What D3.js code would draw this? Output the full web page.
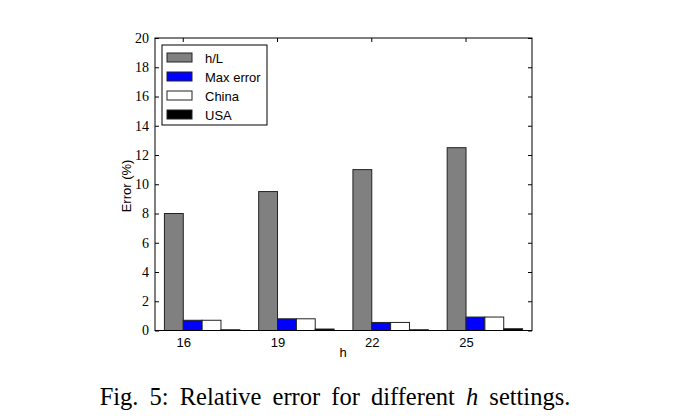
<!DOCTYPE html>
<html>
<head>
<meta charset="utf-8">
<script src="https://cdn.jsdelivr.net/npm/d3@7"></script>
<style>
  html, body { margin: 0; padding: 0; background: #fff; }
  svg { display: block; }
</style>
</head>
<body>
<svg id="chart" width="683" height="420"></svg>
<script>
const categories = ["16", "19", "22", "25"];
const seriesNames = ["h/L", "Max error", "China", "USA"];
const hL = [8, 9.5, 11, 12.5];
const maxError = [0.7, 0.8, 0.55, 0.92];
const china = [0.7, 0.8, 0.55, 0.92];
const usa = [0.05, 0.1, 0.05, 0.12];
const yTicks = [0, 2, 4, 6, 8, 10, 12, 14, 16, 18, 20];
const colors = ["#808080", "#0000ff", "#ffffff", "#000000"];

(function () {
const series = [hL, maxError, china, usa];
const svg = d3.select("#chart");
const pLeft = 155, pRight = 532, pTop = 38, pBottom = 330.5;
const sans = "Liberation Sans, Arial, sans-serif";
const serif = "Liberation Serif, Times New Roman, serif";

const x = d3.scaleBand().domain(categories).range([pLeft, pRight]).paddingInner(0.2).paddingOuter(0.1);
const xs = d3.scaleBand().domain(seriesNames).range([0, x.bandwidth()]);
const y = d3.scaleLinear().domain([0, 20]).range([pBottom, pTop]);

// bars
const g = svg.append("g");
categories.forEach((c, i) => {
  seriesNames.forEach((s, j) => {
    g.append("rect")
      .attr("x", x(c) + xs(s))
      .attr("y", y(series[j][i]))
      .attr("width", xs.bandwidth())
      .attr("height", y(0) - y(series[j][i]))
      .attr("fill", colors[j])
      .attr("stroke", "#222")
      .attr("stroke-width", 1);
  });
});

// frame
svg.append("rect").attr("x", pLeft).attr("y", pTop).attr("width", pRight - pLeft).attr("height", pBottom - pTop)
  .attr("fill", "none").attr("stroke", "#000").attr("stroke-width", 1);

// y axis left (inward ticks)
const yAxisL = d3.axisLeft(y).tickValues(yTicks).tickSize(-4).tickPadding(6).tickFormat(d3.format("d"));
const gyl = svg.append("g").attr("transform", `translate(${pLeft},0)`).call(yAxisL);
gyl.select(".domain").remove();
gyl.selectAll("text").attr("font-family", serif).attr("font-size", 14).attr("fill", "#000");
gyl.selectAll("line").attr("stroke", "#000");

const yAxisR = d3.axisRight(y).tickValues(yTicks).tickSize(-4).tickFormat("");
const gyr = svg.append("g").attr("transform", `translate(${pRight},0)`).call(yAxisR);
gyr.select(".domain").remove();
gyr.selectAll("line").attr("stroke", "#000");

// x ticks position (at first quarter of each group)
const tickPos = c => x(c) + xs.bandwidth();
const xTop = svg.append("g");
categories.forEach(c => {
  xTop.append("line").attr("x1", tickPos(c)).attr("x2", tickPos(c)).attr("y1", pTop).attr("y2", pTop + 4).attr("stroke", "#000");
});
const xAxisB = d3.axisBottom(d3.scalePoint().domain(categories).range([tickPos(categories[0]), tickPos(categories[categories.length - 1])]))
  .tickSize(0).tickPadding(7);
const gxb = svg.append("g").attr("transform", `translate(0,${pBottom})`).call(xAxisB);
gxb.select(".domain").remove();
gxb.selectAll("text").attr("font-family", sans).attr("font-size", 13).attr("fill", "#000");

// axis labels
svg.append("text").attr("x", 343).attr("y", 357).attr("text-anchor", "middle")
  .attr("font-family", sans).attr("font-size", 13).text("h");
svg.append("text").attr("transform", "translate(131,186) rotate(-90)").attr("text-anchor", "middle")
  .attr("font-family", sans).attr("font-size", 13).text("Error (%)");

// legend
const lg = svg.append("g");
lg.append("rect").attr("x", 162).attr("y", 45).attr("width", 105).attr("height", 80)
  .attr("fill", "#fff").attr("stroke", "#000").attr("stroke-width", 1);
seriesNames.forEach((s, j) => {
  const cy = 57.5 + j * 19;
  lg.append("rect").attr("x", 167).attr("y", cy - 4.5).attr("width", 25).attr("height", 9)
    .attr("fill", colors[j]).attr("stroke", "#222").attr("stroke-width", 1);
  lg.append("text").attr("x", 205).attr("y", cy + 5)
    .attr("font-family", sans).attr("font-size", 13).text(s);
});

// caption
const cap = svg.append("text").attr("x", 335).attr("y", 405).attr("text-anchor", "middle")
  .attr("font-family", serif).attr("font-size", 24.5).attr("word-spacing", 5);
cap.append("tspan").text("Fig. 5: Relative error for different ");
cap.append("tspan").attr("font-style", "italic").text("h");
cap.append("tspan").text(" settings.");
})();
</script>
</body>
</html>
